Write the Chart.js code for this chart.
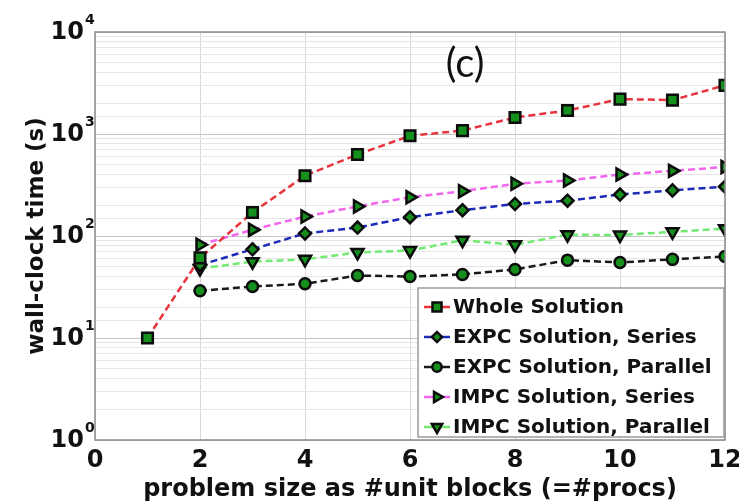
<!DOCTYPE html>
<html>
<head>
<meta charset="utf-8">
<script src="https://cdn.jsdelivr.net/npm/chart.js@4/dist/chart.umd.min.js"></script>
<style>
  html, body { margin: 0; padding: 0; background: #fff; }
  #wrap { width: 739px; height: 502px; }
</style>
</head>
<body>
<div id="wrap"><canvas id="chart"></canvas></div>
<script>
// problem size (#unit blocks = #procs)
const procsWhole = [1, 2, 3, 4, 5, 6, 7, 8, 9, 10, 11, 12];
const procs = [2, 3, 4, 5, 6, 7, 8, 9, 10, 11, 12];

// wall-clock time (s)
const wholeSolution = [10, 61, 170, 390, 630, 960, 1080, 1450, 1700, 2200, 2150, 3000];
const expcSeries = [52, 74, 106, 121, 153, 179, 206, 222, 255, 280, 304];
const expcParallel = [29, 32, 34, 41, 40, 42, 47, 58, 55, 59, 63];
const impcSeries = [82, 115, 155, 195, 240, 275, 325, 350, 400, 435, 475];
const impcParallel = [48, 56, 59, 69, 72, 91, 82, 103, 102, 110, 118];

const xTicks = [0, 2, 4, 6, 8, 10, 12];
const yDecades = [1, 10, 100, 1000, 10000];
const yExponents = ["0", "1", "2", "3", "4"];

const faceGreen = "#16901c";
const edge = "#0c0c0c";
const bold = '"DejaVu Sans", sans-serif';

function pts(xs, ys) {
  return xs.map((x, i) => ({ x, y: ys[i] }));
}

function series(label, xs, ys, color, style, radius, rotation) {
  return {
    label,
    data: pts(xs, ys),
    borderColor: color,
    backgroundColor: color,
    borderWidth: 2.5,
    borderDash: [7, 4],
    pointStyle: style,
    pointRadius: radius,
    pointRotation: rotation || 0,
    pointBackgroundColor: faceGreen,
    pointBorderColor: edge,
    pointBorderWidth: 2.5,
    tension: 0
  };
}

const datasets = [
  series("Whole Solution", procsWhole, wholeSolution, "#e8343c", "rect", 7.5),
  series("EXPC Solution, Series", procs, expcSeries, "#1c2ab8", "rectRot", 6),
  series("EXPC Solution, Parallel", procs, expcParallel, "#1a1a1a", "circle", 5.5),
  series("IMPC Solution, Series", procs, impcSeries, "#f266ee", "triangle", 7, 90),
  series("IMPC Solution, Parallel", procs, impcParallel, "#72ea72", "triangle", 7, 180)
];

// plot frame, panel label and 10^n tick labels
const framePlugin = {
  id: "frame",
  afterDatasetsDraw(chart) {
    const { ctx, chartArea, scales } = chart;
    ctx.save();
    ctx.strokeStyle = "#8c8c8c";
    ctx.lineWidth = 1.5;
    ctx.strokeRect(chartArea.left, chartArea.top, chartArea.width, chartArea.height);
    ctx.fillStyle = "#111";
    ctx.font = '40px Lato, "Open Sans", sans-serif';
    ctx.textAlign = "center";
    ctx.textBaseline = "middle";
    ctx.fillText("(c)", scales.x.getPixelForValue(7.05), scales.y.getPixelForValue(4800));

    // y tick labels as 10 with a raised exponent
    yDecades.forEach((v, i) => {
      const y = scales.y.getPixelForValue(v);
      const xr = chartArea.left - 11;
      ctx.font = "bold 24px " + bold;
      ctx.textAlign = "right";
      ctx.textBaseline = "middle";
      ctx.fillText("10", xr, y + 1);
      ctx.font = "bold 14px " + bold;
      ctx.textAlign = "left";
      ctx.fillText(yExponents[i], xr + 1, y - 12);
    });
    ctx.restore();
  }
};

// legend box inside the lower right of the plot
const boxLegend = {
  id: "boxLegend",
  afterDraw(chart) {
    const { ctx, chartArea } = chart;
    const w = 306, h = 149;
    const x0 = chartArea.right - w - 1;
    const y0 = chartArea.bottom - h - 3;
    ctx.save();
    ctx.fillStyle = "#fff";
    ctx.strokeStyle = "#9a9a9a";
    ctx.lineWidth = 1.5;
    ctx.fillRect(x0, y0, w, h);
    ctx.strokeRect(x0, y0, w, h);
    chart.data.datasets.forEach((ds, i) => {
      const cy = y0 + 19 + i * 30;
      ctx.setLineDash([]);
      ctx.strokeStyle = ds.borderColor;
      ctx.lineWidth = 2.5;
      ctx.beginPath();
      ctx.moveTo(x0 + 6, cy);
      ctx.lineTo(x0 + 32, cy);
      ctx.stroke();
      ctx.fillStyle = faceGreen;
      ctx.strokeStyle = edge;
      ctx.lineWidth = 2.5;
      Chart.helpers.drawPoint(ctx, {
        pointStyle: ds.pointStyle,
        radius: ds.pointRadius * 0.85,
        rotation: ds.pointRotation,
        borderWidth: 2.5
      }, x0 + 19, cy);
      ctx.fillStyle = "#111";
      ctx.font = "bold 20px " + bold;
      ctx.textAlign = "left";
      ctx.textBaseline = "middle";
      ctx.fillText(ds.label, x0 + 35, cy + 1);
    });
    ctx.restore();
  }
};

new Chart(document.getElementById("chart"), {
  type: "line",
  data: { datasets },
  options: {
    responsive: true,
    maintainAspectRatio: false,
    animation: false,
    layout: { padding: { top: 32, right: 14, left: 0, bottom: 0 } },
    plugins: {
      legend: { display: false },
      tooltip: { enabled: false }
    },
    scales: {
      x: {
        type: "linear",
        min: 0,
        max: 12,
        afterBuildTicks(scale) {
          scale.ticks = xTicks.map(v => ({ value: v }));
        },
        afterFit(scale) {
          scale.height = 62;
          scale.paddingLeft = 0;
          scale.paddingRight = 0;
        },
        grid: { color: "#d8d8d8", drawTicks: false },
        border: { display: false },
        ticks: { color: "#111", font: { family: bold, size: 24, weight: "bold" }, padding: 6, maxRotation: 0 },
        title: {
          display: true,
          text: "problem size as #unit blocks (=#procs)",
          color: "#111",
          font: { family: bold, size: 24, weight: "bold", lineHeight: 1.0 },
          padding: { top: 0, bottom: 0 }
        }
      },
      y: {
        type: "logarithmic",
        min: 1,
        max: 10000,
        afterFit(scale) { scale.width = 95; },
        grid: {
          drawTicks: false,
          color(ctx) {
            const v = ctx.tick ? ctx.tick.value : 0;
            return yDecades.includes(v) ? "#c4c4c4" : "#e6e6e6";
          }
        },
        border: { display: false },
        ticks: {
          autoSkip: false,
          callback() { return ""; }
        },
        title: {
          display: true,
          text: "wall-clock time (s)",
          color: "#111",
          font: { family: bold, size: 23, weight: "bold" },
          padding: { top: 23, bottom: 0 }
        }
      }
    }
  },
  plugins: [framePlugin, boxLegend]
});
</script>
</body>
</html>
